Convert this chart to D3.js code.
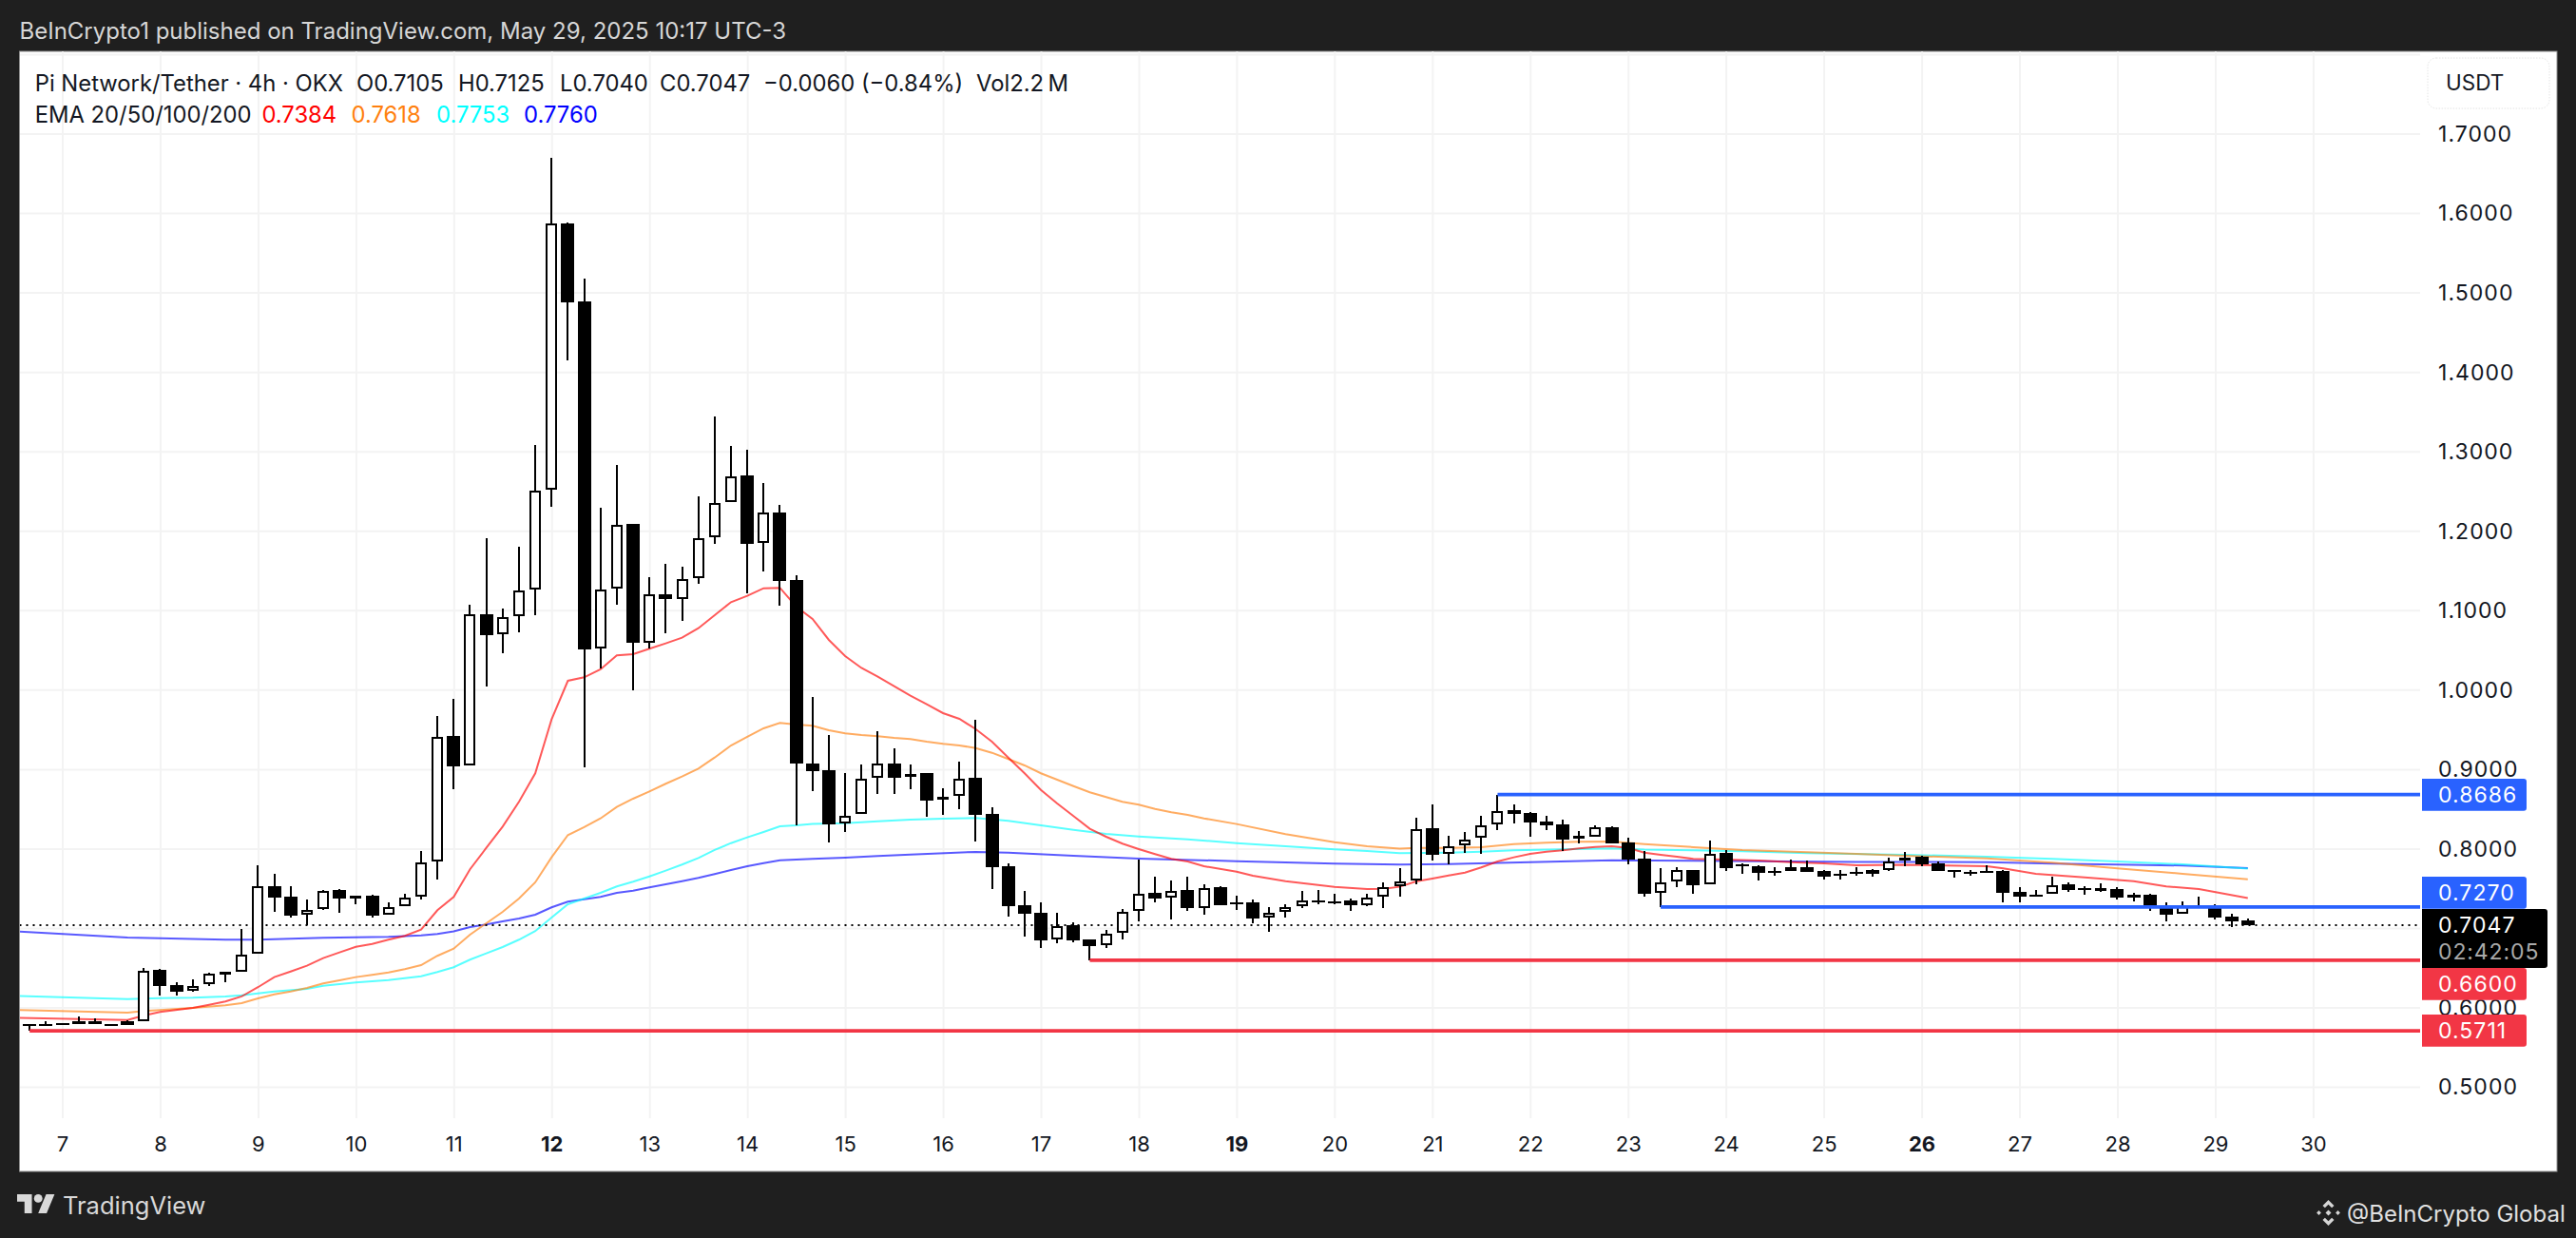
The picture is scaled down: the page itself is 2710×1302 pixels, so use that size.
<!DOCTYPE html>
<html><head><meta charset="utf-8">
<script src="https://cdnjs.cloudflare.com/ajax/libs/d3/7.8.5/d3.min.js"></script>
<style>html,body{margin:0;padding:0;background:#1f1f1f}svg{display:block}text{font-family:Inter,"Noto Sans",sans-serif}</style>
</head><body><svg id="c" width="2710" height="1302"></svg>
<script>
// ---- data (candle index 0 = start of day 7, six 4h candles per day)
const firstCandle = -2;
const opens  = [.5797,.5797,.5809,.5830,.5833,.5801,.5830,.5833,.6476,.6288,.6213,.6300,.6445,.6452,.6680,.7537,.7398,.7174,.7242,.7485,.7410,.7409,.7174,.7282,.7398,.7844,.9420,.9053,1.0960,1.0701,1.0929,1.1267,1.2520,1.5872,1.4890,1.0522,1.1279,1.2090,1.0597,1.1204,1.1148,1.1407,1.1922,1.2365,1.2700,1.1850,1.2233,1.1383,.9073,.8990,.8323,.8443,.8894,.9073,.8906,.8954,.8622,.8670,.8894,.8439,.7781,.7290,.7194,.6859,.7039,.6859,.6787,.6947,.7218,.7446,.7389,.7481,.7258,.7517,.7332,.7326,.7135,.7210,.7282,.7357,.7345,.7350,.7294,.7401,.7529,.7605,.8259,.7936,.8044,.8143,.8307,.8487,.8451,.8343,.8307,.8149,.8155,.8271,.8080,.7877,.7449,.7593,.7733,.7553,.7948,.7805,.7784,.7727,.7721,.7772,.7724,.7685,.7707,.7733,.7733,.7856,.7904,.7817,.7733,.7715,.7730,.7724,.7457,.7429,.7437,.7553,.7509,.7497,.7493,.7421,.7425,.7290,.7182,.7297,.7294,.7150,.7105];
const highs  = [.5800,.5830,.5813,.5890,.5866,.5801,.5846,.6500,.6488,.6320,.6360,.6447,.6452,.6994,.7796,.7685,.7529,.7362,.7489,.7493,.7417,.7421,.7326,.7434,.7976,.9672,.9891,1.1076,1.1914,1.1028,1.1806,1.3083,1.6701,1.5884,1.5178,1.2297,1.2832,1.2090,1.1419,1.1587,1.1555,1.2440,1.3442,1.3071,1.3023,1.2604,1.2329,1.1443,.9911,.9432,.8954,.9061,.9480,.9265,.9061,.8954,.8762,.9101,.9624,.8523,.7817,.7469,.7326,.7198,.7078,.6859,.6979,.7242,.7868,.7649,.7601,.7649,.7553,.7529,.7410,.7362,.7266,.7302,.7473,.7481,.7434,.7381,.7434,.7577,.7757,.8391,.8559,.8167,.8215,.8415,.8682,.8562,.8463,.8415,.8367,.8231,.8295,.8283,.8140,.7976,.7757,.7769,.7733,.8104,.7988,.7820,.7796,.7776,.7864,.7856,.7740,.7733,.7776,.7748,.7896,.7964,.7916,.7841,.7733,.7740,.7796,.7740,.7517,.7485,.7653,.7585,.7533,.7565,.7521,.7445,.7434,.7326,.7338,.7398,.7306,.7186,.7125];
const lows   = [.5713,.5770,.5790,.5794,.5794,.5773,.5789,.5830,.6160,.6160,.6204,.6280,.6328,.6452,.6680,.7206,.7141,.7039,.7230,.7201,.7309,.7141,.7174,.7282,.7369,.7617,.8754,.9053,1.0050,1.0469,1.0729,1.0948,1.2305,1.4152,.9033,1.0277,1.1079,1.0002,1.0529,1.0720,1.0876,1.1335,1.1845,1.2365,1.1223,1.1498,1.1060,.8303,.8733,.8087,.8215,.8443,.8694,.8694,.8754,.8407,.8434,.8502,.8095,.7497,.7153,.6899,.6759,.6819,.6830,.6600,.6759,.6866,.7090,.7329,.7114,.7222,.7174,.7297,.7234,.7070,.6958,.7138,.7261,.7305,.7309,.7222,.7278,.7258,.7405,.7557,.7856,.7808,.7955,.7943,.8243,.8323,.8155,.8236,.7976,.8071,.8155,.8075,.7805,.7405,.7270,.7525,.7437,.7553,.7724,.7692,.7605,.7668,.7721,.7716,.7620,.7620,.7661,.7656,.7721,.7788,.7788,.7728,.7644,.7668,.7700,.7333,.7333,.7401,.7437,.7461,.7429,.7457,.7366,.7338,.7222,.7094,.7182,.7285,.7114,.7022,.7040];
const closes = [.5791,.5795,.5798,.5801,.5794,.5789,.5789,.6471,.6280,.6208,.6280,.6435,.6452,.6675,.7537,.7393,.7165,.7237,.7477,.7381,.7417,.7165,.7270,.7389,.7836,.9412,.9045,1.0956,1.0696,1.0924,1.1259,1.2516,1.5879,1.4885,1.0517,1.1267,1.2081,1.0601,1.1211,1.1148,1.1399,1.1914,1.2356,1.2692,1.1845,1.2240,1.1379,.9081,.8985,.8315,.8422,.8889,.9081,.8901,.8949,.8614,.8662,.8889,.8434,.7776,.7285,.7189,.6854,.7027,.6854,.6782,.6934,.7213,.7441,.7381,.7477,.7261,.7512,.7297,.7326,.7130,.7198,.7270,.7357,.7326,.7326,.7290,.7389,.7525,.7593,.8251,.7931,.8039,.8123,.8303,.8482,.8446,.8338,.8303,.8123,.8161,.8271,.8075,.7872,.7441,.7584,.7733,.7549,.7943,.7764,.7796,.7704,.7721,.7769,.7716,.7656,.7679,.7701,.7692,.7848,.7896,.7812,.7728,.7709,.7709,.7721,.7453,.7405,.7413,.7541,.7489,.7497,.7509,.7393,.7393,.7285,.7178,.7285,.7285,.7142,.7094,.7047];

const ema20  = [[-3,.5878],[4,.5849],[5,.5905],[6,.5949],[8,.6001],[9,.6040],[10,.6081],[11,.6145],[12,.6261],[13,.6388],[14,.6459],[15,.6531],[16,.6627],[17,.6699],[18,.6770],[19,.6806],[20,.6859],[21,.6907],[22,.6986],[23,.7230],[24,.7398],[25,.7745],[26,.8015],[27,.8283],[28,.8594],[29,.8954],[30,.9631],[31,1.0118],[32,1.0162],[33,1.0262],[34,1.0438],[35,1.0453],[36,1.0522],[37,1.0589],[38,1.0660],[39,1.0780],[40,1.0944],[41,1.1108],[42,1.1187],[43,1.1283],[44,1.1289],[45,1.1052],[46,1.0896],[47,1.0633],[48,1.0429],[49,1.0280],[50,1.0170],[51,1.0050],[52,.9930],[53,.9823],[54,.9711],[55,.9639],[56,.9511],[57,.9352],[58,.9152],[59,.8954],[60,.8745],[61,.8574],[62,.8415],[63,.8255],[64,.8155],[65,.8068],[66,.8000],[67,.7936],[68,.7876],[69,.7844],[70,.7784],[72,.7716],[73,.7665],[75,.7596],[78,.7525],[80,.7497],[81,.7501],[82,.7525],[83,.7593],[84,.7629],[85,.7668],[86,.7704],[87,.7769],[88,.7844],[89,.7896],[90,.7940],[91,.7967],[92,.7984],[93,.8008],[94,.8027],[95,.8036],[96,.8015],[97,.7955],[98,.7928],[99,.7904],[100,.7876],[102,.7868],[104,.7856],[106,.7836],[108,.7820],[110,.7796],[113,.7802],[118,.7784],[119,.7757],[121,.7689],[124,.7644],[127,.7596],[129,.7530],[131,.7497],[134,.7384]];
const ema50  = [[-3,.5977],[4,.5941],[5,.5961],[6,.5973],[8,.6001],[10,.6033],[11,.6061],[12,.6121],[13,.6172],[14,.6208],[15,.6252],[16,.6309],[17,.6348],[18,.6388],[19,.6416],[20,.6447],[21,.6488],[22,.6539],[23,.6656],[24,.6747],[25,.6923],[26,.7066],[27,.7210],[28,.7377],[29,.7581],[30,.7896],[31,.8176],[32,.8275],[33,.8386],[34,.8530],[35,.8634],[36,.8726],[37,.8822],[38,.8913],[39,.9013],[40,.9152],[41,.9304],[42,.9412],[43,.9520],[44,.9588],[45,.9568],[46,.9552],[47,.9496],[48,.9456],[49,.9436],[50,.9422],[51,.9400],[52,.9385],[53,.9352],[54,.9325],[55,.9304],[56,.9272],[57,.9212],[58,.9133],[59,.9053],[60,.8954],[61,.8873],[62,.8793],[63,.8714],[64,.8654],[65,.8594],[66,.8559],[67,.8506],[68,.8463],[69,.8431],[70,.8386],[72,.8315],[75,.8188],[78,.8087],[80,.8036],[82,.8006],[83,.8015],[85,.8015],[87,.8024],[89,.8063],[91,.8080],[93,.8092],[95,.8096],[97,.8063],[100,.8024],[103,.7988],[107,.7960],[110,.7940],[113,.7916],[118,.7884],[122,.7829],[126,.7757],[130,.7689],[134,.7618]];
const ema100 = [[-3,.6153],[4,.6112],[6,.6124],[8,.6129],[10,.6145],[11,.6160],[13,.6208],[15,.6240],[16,.6280],[18,.6320],[20,.6352],[22,.6399],[23,.6452],[24,.6512],[25,.6608],[26,.6687],[27,.6767],[28,.6859],[29,.6967],[30,.7138],[31,.7306],[32,.7377],[33,.7449],[34,.7529],[35,.7589],[36,.7656],[37,.7728],[38,.7805],[39,.7888],[40,.7988],[41,.8075],[42,.8147],[43,.8215],[44,.8287],[45,.8299],[46,.8317],[48,.8327],[50,.8350],[52,.8370],[54,.8382],[56,.8391],[57,.8374],[58,.8355],[60,.8299],[62,.8243],[64,.8191],[66,.8159],[69,.8123],[72,.8075],[75,.8036],[78,.7996],[80,.7976],[82,.7948],[85,.7955],[87,.7967],[89,.7984],[92,.7996],[95,.8008],[97,.7992],[100,.7984],[103,.7972],[107,.7948],[113,.7928],[118,.7904],[122,.7876],[126,.7844],[130,.7808],[134,.7753]];
const ema200 = [[-3,.6967],[4,.6887],[10,.6859],[12,.6859],[16,.6883],[20,.6895],[22,.6914],[23,.6931],[24,.6964],[25,.7018],[26,.7050],[27,.7090],[28,.7126],[29,.7174],[30,.7266],[31,.7338],[32,.7369],[33,.7398],[34,.7449],[35,.7477],[36,.7517],[37,.7557],[38,.7596],[39,.7637],[40,.7685],[41,.7736],[42,.7784],[43,.7824],[44,.7860],[46,.7877],[48,.7892],[50,.7912],[52,.7932],[56,.7964],[58,.7955],[62,.7916],[66,.7880],[72,.7848],[78,.7817],[82,.7805],[85,.7812],[90,.7836],[95,.7860],[100,.7853],[110,.7838],[118,.7836],[122,.7817],[126,.7805],[130,.7793],[134,.7760]];

const rayStart  = [88, 98, 63, -2];
const rayPrices = [.8686, .7270, .6600, .5711];
const rayColors = ["#2962ff", "#2962ff", "#f23645", "#f23645"];
const rayLabels = ["0.8686", "0.7270", "0.6600", "0.5711"];
const lastPrice = .7047;
const lastPriceLabel = "0.7047";
const countdown = "02:42:05";
const priceTicks = [.5,.6,.7,.8,.9,1,1.1,1.2,1.3,1.4,1.5,1.6,1.7];
const gridPrices = [.5,.6,.7,.8,.9,1,1.1,1.2,1.3,1.4,1.5,1.6,1.7,1.8];
const dayLabels  = [7,8,9,10,11,12,13,14,15,16,17,18,19,20,21,22,23,24,25,26,27,28,29,30];
const boldDays   = [12,19,26];
const emaColors  = ["#ff0000","#ff7f0e","#00ffff","#0000ff"];
const emaValues  = ["0.7384","0.7618","0.7753","0.7760"];

// ---- layout
const P = {l:20.5, t:54, r:2690, b:1232, cr:2546, ab:1176};
const x = d3.scaleLinear().domain([0,138]).range([65.5,2433.4]);
const y = d3.scaleLinear().domain([.5,1.7]).range([1143.6,141]);
const svg = d3.select("#c");

svg.append("rect").attr("width",2710).attr("height",1302).attr("fill","#1f1f1f");
svg.append("rect").attr("x",P.l).attr("y",P.t).attr("width",P.r-P.l).attr("height",P.b-P.t).attr("fill","#fff").attr("stroke","#8f8f8f").attr("stroke-width",1);

const defs = svg.append("defs");
defs.append("clipPath").attr("id","pane").append("rect").attr("x",P.l+.5).attr("y",P.t+.5).attr("width",P.cr-P.l).attr("height",P.ab-P.t);

// grid
svg.append("g").selectAll("line").data(gridPrices).join("line")
  .attr("x1",P.l+.5).attr("x2",P.cr).attr("y1",d=>y(d)).attr("y2",d=>y(d))
  .attr("stroke","#f3f3f3").attr("stroke-width",2);

// x axis through d3.axisBottom
const ax = d3.axisBottom(x).tickValues(dayLabels.map(d=>(d-7)*6)).tickFormat(v=>v/6+7).tickSize(-(P.ab-P.t)).tickPadding(19);
const gx = svg.append("g").attr("transform",`translate(0,${P.ab})`).call(ax);
gx.select(".domain").remove();
gx.selectAll("line").attr("stroke","#f3f3f3").attr("stroke-width",2);
gx.selectAll("text").attr("fill","#131722").attr("font-size",22).attr("font-family","Inter")
  .attr("font-weight",v=>boldDays.includes(v/6+7)?700:400);

// EMA lines
const pane = svg.append("g").attr("clip-path","url(#pane)");
const line = d3.line().x(d=>x(d[0])).y(d=>y(d[1]));
[[ema200,"#0000ff"],[ema100,"#00ffff"],[ema50,"#ff7f0e"],[ema20,"#ff0000"]].forEach(([d,c])=>{
  pane.append("path").datum(d).attr("fill","none").attr("stroke",c).attr("stroke-opacity",.65).attr("stroke-width",2).attr("d",line);
});

// dotted last price line
pane.append("line").attr("x1",P.l).attr("x2",P.cr).attr("y1",Math.round(y(lastPrice))).attr("y2",Math.round(y(lastPrice)))
  .attr("stroke","#000").attr("stroke-width",2).attr("stroke-dasharray","2 5");

// candles: crisp 2px wicks and borders, centres snapped to whole pixels
const candles = opens.map((o,i)=>({i:i+firstCandle,o,h:highs[i],l:lows[i],c:closes[i]}));
const sw = 2, cx = i=>Math.round(x(i));
const g = pane.append("g").attr("shape-rendering","crispEdges").selectAll("g").data(candles).join("g");
g.append("line").attr("x1",d=>cx(d.i)).attr("x2",d=>cx(d.i)).attr("y1",d=>Math.round(y(d.h))).attr("y2",d=>Math.round(y(d.l)))
  .attr("stroke","#000").attr("stroke-width",sw);
g.append("rect").each(function(d){
  const up = d.c>=d.o, top=Math.round(y(Math.max(d.o,d.c))), bot=Math.round(y(Math.min(d.o,d.c)));
  const s = d3.select(this);
  if(up) s.attr("x",cx(d.i)-5).attr("width",10).attr("y",top+1).attr("height",Math.max(bot-top-2,1))
          .attr("fill","#fff").attr("stroke","#000").attr("stroke-width",sw);
  else   s.attr("x",cx(d.i)-7).attr("width",14).attr("y",top).attr("height",Math.max(bot-top,2)).attr("fill","#000");
});

// horizontal rays
svg.append("g").selectAll("line").data(rayPrices).join("line")
  .attr("x1",(d,i)=>x(rayStart[i])).attr("x2",P.cr).attr("y1",d=>y(d)).attr("y2",d=>y(d))
  .attr("stroke",(d,i)=>rayColors[i]).attr("stroke-width",3.7);

// price axis through d3.axisRight
const ay = d3.axisRight(y).tickValues(priceTicks).tickFormat(d3.format(".4f")).tickSize(0).tickPadding(0);
const gy = svg.append("g").attr("transform","translate(2565,0)").call(ay);
gy.select(".domain").remove();
gy.selectAll("text").attr("fill","#131722").attr("font-size",23).attr("font-family","Inter").attr("letter-spacing",1.05);

// USDT button
svg.append("rect").attr("x",2554).attr("y",61).attr("width",128).attr("height",53).attr("rx",9)
  .attr("fill","#fff").attr("stroke","#e4e4e4").attr("stroke-width",1).attr("stroke-dasharray","1.5 1.5");
svg.append("text").attr("x",2573).attr("y",95).attr("font-size",22.5).attr("fill","#131722").text("USDT");

// price labels
const labelTop = [819,922,1018,1067];
const tagPath = (x0,yt,w,h)=>`M${x0},${yt}H${x0+w-3}a3,3 0 0 1 3,3V${yt+h-3}a3,3 0 0 1 -3,3H${x0}Z`;
const tags = svg.append("g").selectAll("g").data(rayLabels).join("g");
tags.append("path").attr("d",(d,i)=>tagPath(2548,labelTop[i],110,33.7)).attr("fill",(d,i)=>rayColors[i]);
tags.append("text").attr("x",2565).attr("y",(d,i)=>labelTop[i]+25).attr("font-size",23).attr("letter-spacing",1.05).attr("fill","#fff").text(d=>d);
svg.append("path").attr("d",tagPath(2548,956,132,62)).attr("fill","#000");
svg.append("text").attr("x",2565).attr("y",981).attr("font-size",23).attr("letter-spacing",1.05).attr("fill","#fff").text(lastPriceLabel);
svg.append("text").attr("x",2565).attr("y",1009).attr("font-size",23).attr("letter-spacing",.9).attr("fill","#a9a9a9").text(countdown);

// header and legend
svg.append("text").attr("x",20.5).attr("y",41).attr("font-size",24).attr("fill","#d6d6d6").text("BeInCrypto1 published on TradingView.com, May 29, 2025 10:17 UTC-3");
const legendRow1 = [["Pi Network/Tether · 4h · OKX",36.7],["O0.7105",375],["H0.7125",482],["L0.7040",589],["C0.7047",694],["−0.0060 (−0.84%)",803],["Vol2.2\u2009M",1027]];
svg.append("g").selectAll("text").data(legendRow1).join("text").attr("x",d=>d[1]).attr("y",96).attr("font-size",23.8).attr("fill","#131722").text(d=>d[0]);
svg.append("text").attr("x",36.7).attr("y",129).attr("font-size",23.8).attr("fill","#131722").text("EMA 20/50/100/200");
const emaX = [275.4,369.5,459,551];
svg.append("g").selectAll("text").data(emaValues).join("text").attr("x",(d,i)=>emaX[i]).attr("y",129).attr("font-size",23.8).attr("fill",(d,i)=>emaColors[i]).text(d=>d);

// footer
const tv = svg.append("g").attr("transform","translate(18,1251.5) scale(1.11)").attr("fill","#d9d9d9");
tv.append("path").attr("d","M14 22H7V11H0V4h14v18zM28 22h-8l7.5-18h8L28 22z");
tv.append("circle").attr("cx",20).attr("cy",8).attr("r",4);
svg.append("text").attr("x",66).attr("y",1277).attr("font-size",25.5).attr("fill","#d9d9d9").text("TradingView");
const bi = svg.append("g").attr("transform","translate(2449.5,1275.5)").attr("fill","#d6d6d6");
bi.append("path").attr("d","M0,-13.5L6,-7.5L3.6,-5.2L0,-8.8L-3.6,-5.2L-6,-7.5Z");
bi.append("path").attr("d","M0,13.5L6,7.5L3.6,5.2L0,8.8L-3.6,5.2L-6,7.5Z");
bi.append("path").attr("d","M0,-3L3,0L0,3L-3,0Z");
bi.append("path").attr("d","M-10,-2.4L-7.6,0L-10,2.4L-12.4,0Z");
bi.append("path").attr("d","M10,-2.4L12.4,0L10,2.4L7.6,0Z");
svg.append("text").attr("x",2469).attr("y",1285).attr("font-size",24).attr("fill","#e0e0e0").text("@BeInCrypto Global");
</script></body></html>
